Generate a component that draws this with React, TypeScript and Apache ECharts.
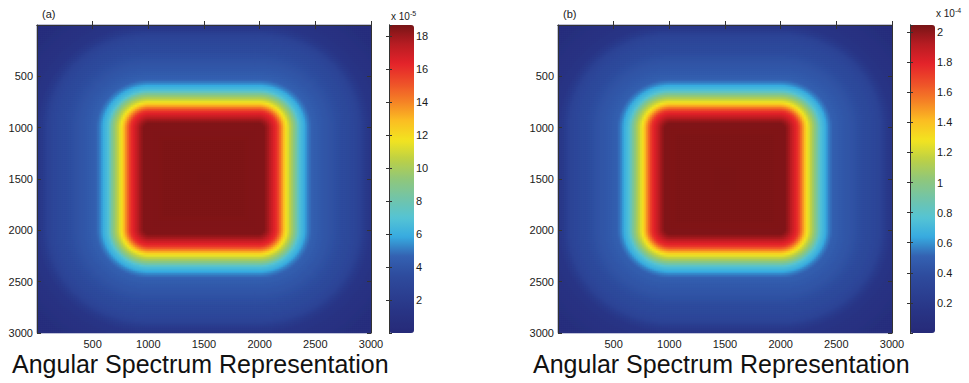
import React, { useEffect, useRef } from 'react';
import * as echarts from 'echarts';

// ---- data ----
const AXIS_MIN = 0;
const AXIS_MAX = 3000;
const AXIS_STEP = 500;
const N_COLS = 167; // image columns (cells)
const N_ROWS = 154; // image rows (cells)
const CENTER = 1500;
const CORE_HALF = 490;

// distance from the centre along an axis (data units) and the value there
const PROFILE_D = [0, 540, 580, 620, 660, 700, 740, 780, 820, 860, 900, 930, 970, 1050, 1150, 1250, 1350, 1400, 1450, 1500, 1600, 1800, 2000];
const PROFILE_A = [18.6, 18.5, 17.8, 16.8, 15.8, 13.8, 11.8, 10.3, 8.8, 6.8, 6.0, 5.2, 4.6, 4.2, 3.8, 3.4, 3.0, 2.6, 1.9, 1.4, 1.1, 0.6, 0.3];
const PROFILE_B = [2.04, 2.03, 1.95, 1.84, 1.73, 1.51, 1.29, 1.13, 0.96, 0.75, 0.66, 0.57, 0.5, 0.46, 0.42, 0.37, 0.33, 0.29, 0.21, 0.15, 0.12, 0.07, 0.03];

const CBAR_A_MIN = 0;
const CBAR_A_MAX = 18.67;
const CBAR_A_STEP = 2;
const CBAR_A_EXP = '-5';
const CBAR_B_MIN = 0;
const CBAR_B_MAX = 2.047;
const CBAR_B_STEP = 0.2;
const CBAR_B_EXP = '-4';

const PANEL_LABELS = ['(a)', '(b)'];
const CAPTION = 'Angular Spectrum Representation';

const COLORS = [
  '#262a78', '#283383', '#2b3f91', '#2e4c9e', '#3462b2', '#37abe0', '#55c4d4', '#72c4a8', '#90c77a',
  '#bcd046', '#f2e420', '#fbbf22', '#f58325', '#ee4f29', '#e4222a', '#b81c22', '#781416',
];

function lookup(profD: number[], profV: number[], d: number) {
  if (d <= profD[0]) return profV[0];
  for (let i = 1; i < profD.length; i++) {
    if (d <= profD[i]) {
      const t = (d - profD[i - 1]) / (profD[i] - profD[i - 1]);
      return profV[i - 1] + t * (profV[i] - profV[i - 1]);
    }
  }
  return profV[profV.length - 1];
}

function buildField(profV: number[]) {
  const out: number[][] = [];
  for (let r = 0; r < N_ROWS; r++) {
    for (let c = 0; c < N_COLS; c++) {
      const x = ((c + 0.5) * (AXIS_MAX - AXIS_MIN)) / N_COLS;
      const y = ((r + 0.5) * (AXIS_MAX - AXIS_MIN)) / N_ROWS;
      const dx = Math.abs(x - CENTER);
      const dy = Math.abs(y - CENTER);
      const ox = Math.max(dx - CORE_HALF, 0);
      const oy = Math.max(dy - CORE_HALF, 0);
      const d = ox === 0 && oy === 0 ? Math.max(dx, dy) : CORE_HALF + Math.hypot(ox, oy);
      out.push([c, r, lookup(PROFILE_D, profV, d)]);
    }
  }
  return out;
}

const FONT = 'Liberation Sans, Arial, sans-serif';
const TXT = '#1a1a1a';

export default function App() {
  const ref = useRef<HTMLDivElement>(null);
  useEffect(() => {
    if (!ref.current) return;
    const chart = echarts.init(ref.current, undefined, { renderer: 'svg' });
    const xCats = Array.from({ length: N_COLS }, (_, i) => String(i));
    const yCats = Array.from({ length: N_ROWS }, (_, i) => String(i));

    const panels = [
      { left: 37, cbLeft: 389 },
      { left: 558, cbLeft: 910 },
    ];
    const top = 25, h = 308, w = 334, cbW = 25;

    const grids: any[] = [];
    const xAxes: any[] = [];
    const yAxes: any[] = [];
    panels.forEach((p) => {
      grids.push({ left: p.left, top, width: w, height: h });
    });
    panels.forEach((p) => {
      grids.push({ left: p.cbLeft, top, width: cbW, height: h });
    });

    const plain = (v: number) => String(Math.round(v * 100) / 100);
    const lbl = { fontFamily: FONT, fontSize: 11, color: TXT, formatter: plain };
    const tick = { show: true, inside: true, length: 4, lineStyle: { color: '#333', width: 1 } };
    const line = { show: true, lineStyle: { color: '#333', width: 1 } };

    panels.forEach((_, gi) => {
      xAxes.push({ type: 'category', gridIndex: gi, data: xCats, show: false, boundaryGap: true });
      xAxes.push({
        type: 'value', gridIndex: gi, min: AXIS_MIN, max: AXIS_MAX, interval: AXIS_STEP, position: 'bottom', z: 10,
        axisLine: line, axisTick: tick, splitLine: { show: false },
        axisLabel: { ...lbl, margin: 5, showMinLabel: false },
      });
      xAxes.push({
        type: 'value', gridIndex: gi, min: AXIS_MIN, max: AXIS_MAX, interval: AXIS_STEP, position: 'top', z: 10,
        axisLine: line, axisTick: tick, splitLine: { show: false }, axisLabel: { show: false },
      });
      yAxes.push({ type: 'category', gridIndex: gi, data: yCats, show: false, inverse: true, boundaryGap: true });
      yAxes.push({
        type: 'value', gridIndex: gi, min: AXIS_MIN, max: AXIS_MAX, interval: AXIS_STEP, inverse: true, position: 'left', z: 10,
        axisLine: line, axisTick: tick, splitLine: { show: false },
        axisLabel: { ...lbl, margin: 4, showMinLabel: false },
      });
      yAxes.push({
        type: 'value', gridIndex: gi, min: AXIS_MIN, max: AXIS_MAX, interval: AXIS_STEP, inverse: true, position: 'right', z: 10,
        axisLine: line, axisTick: tick, splitLine: { show: false }, axisLabel: { show: false },
      });
    });

    const cbs = [
      { min: CBAR_A_MIN, max: CBAR_A_MAX, step: CBAR_A_STEP },
      { min: CBAR_B_MIN, max: CBAR_B_MAX, step: CBAR_B_STEP },
    ];
    cbs.forEach((cb, i) => {
      const gi = 2 + i;
      xAxes.push({ type: 'value', gridIndex: gi, min: 0, max: 1, show: false });
      yAxes.push({
        type: 'value', gridIndex: gi, min: cb.min, max: cb.max, interval: cb.step, position: 'right', z: 10,
        axisLine: line, axisTick: { ...tick, length: 3 }, splitLine: { show: false },
        axisLabel: { ...lbl, margin: 2, showMinLabel: false, showMaxLabel: false },
      });
      yAxes.push({
        type: 'value', gridIndex: gi, min: cb.min, max: cb.max, interval: cb.step, position: 'left', z: 10,
        axisLine: line, axisTick: { ...tick, length: 3 }, splitLine: { show: false }, axisLabel: { show: false },
      });
    });

    const graphics: any[] = [];
    panels.forEach((p, i) => {
      graphics.push({
        type: 'text', left: p.left + 5, top: 8,
        style: { text: PANEL_LABELS[i], font: `11px ${FONT}`, fill: TXT },
      });
      graphics.push({
        type: 'text', left: p.left - 25, top: 351,
        style: { text: CAPTION, font: `25px ${FONT}`, fill: '#111' },
      });
      graphics.push({
        type: 'text', left: p.cbLeft + 2 + (i === 1 ? 24 : 0), top: i === 0 ? 10 : 7,
        style: {
          text: `x 10{s|${i === 0 ? CBAR_A_EXP : CBAR_B_EXP}}`,
          font: `10px ${FONT}`, fill: TXT,
          rich: { s: { fontSize: 7, fontFamily: FONT, fill: TXT, verticalAlign: 'top', padding: [0, 0, 6, 0] } },
        },
      });
    });

    chart.setOption({
      animation: false,
      backgroundColor: '#ffffff',
      grid: grids,
      xAxis: xAxes,
      yAxis: yAxes,
      visualMap: [
        {
          type: 'continuous', seriesIndex: 0, min: CBAR_A_MIN, max: CBAR_A_MAX, calculable: false, hoverLink: false,
          left: panels[0].cbLeft, top, itemWidth: cbW, itemHeight: h, padding: 0, inRange: { color: COLORS },
        },
        {
          type: 'continuous', seriesIndex: 1, min: CBAR_B_MIN, max: CBAR_B_MAX, calculable: false, hoverLink: false,
          left: panels[1].cbLeft, top, itemWidth: cbW, itemHeight: h, padding: 0, inRange: { color: COLORS },
        },
      ],
      series: [
        { type: 'heatmap', xAxisIndex: 0, yAxisIndex: 0, data: buildField(PROFILE_A), progressive: 0, emphasis: { disabled: true } },
        { type: 'heatmap', xAxisIndex: 3, yAxisIndex: 3, data: buildField(PROFILE_B), progressive: 0, emphasis: { disabled: true } },
      ],
      graphic: graphics,
    });
    return () => chart.dispose();
  }, []);
  return <div ref={ref} style={{ position: 'fixed', left: 0, top: 0, width: 969, height: 383 }} />;
}
